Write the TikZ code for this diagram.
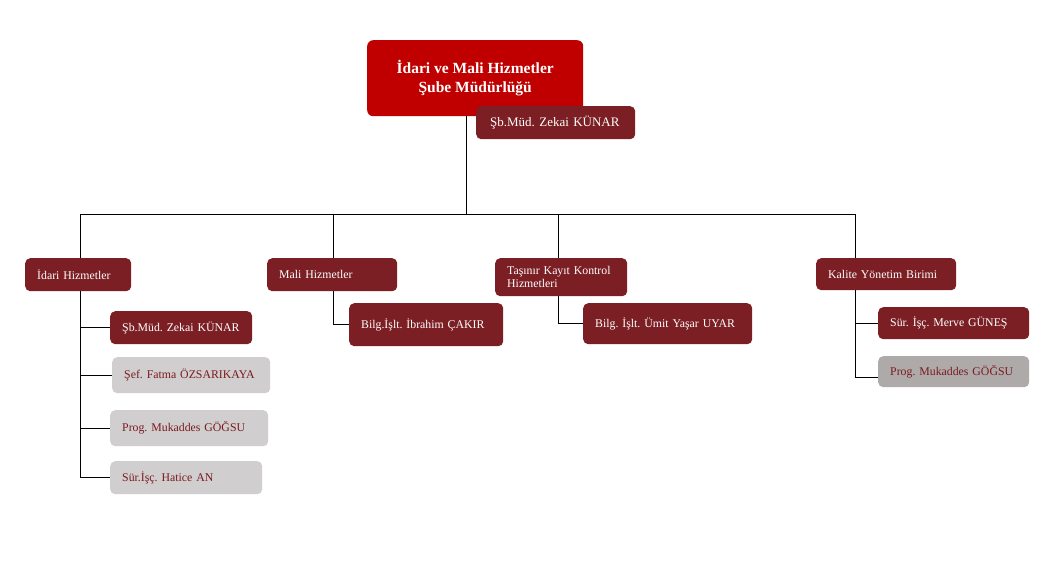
\documentclass[tikz,border=0pt]{standalone}
\usepackage{fontspec}
\setmainfont{Liberation Serif}
\definecolor{topred}{HTML}{C00000}
\definecolor{darkred}{HTML}{7B1F24}
\definecolor{lightgrey}{HTML}{D0CECE}
\definecolor{midgrey}{HTML}{AEAAAA}
\definecolor{greytext}{HTML}{7B1A1F}
\begin{document}
\begin{tikzpicture}[x=1pt,y=1pt,
  base/.style={anchor=north west, rounded corners=5pt, inner xsep=12pt, inner ysep=2pt, align=left, font=\fontsize{11.8}{13}\selectfont\frenchspacing},
  redbox/.style={base, fill=darkred, text=white},
  greybox/.style={base, fill=lightgrey, text=greytext},
  darkgreybox/.style={base, fill=midgrey, text=greytext},
  conn/.style={draw=black, line width=0.8pt}]
\useasboundingbox[fill=white] (0,0) rectangle (1057,-572);
% top
\node[anchor=north west, rounded corners=6pt, fill=topred, text=white, minimum width=216pt, minimum height=76pt, align=center, font=\bfseries\fontsize{15.5}{19}\selectfont] (top) at (367,-40) {İdari ve Mali Hizmetler\\Şube Müdürlüğü};
\coordinate (j) at (466,-214);
\coordinate (hl) at (80,-214);
\coordinate (hr) at (855,-214);
\coordinate (xm) at (333,-214);
\coordinate (xt) at (558,-214);
\draw[conn] (top.south -| j) -- (j);
\node[redbox, minimum width=159pt, minimum height=33pt, text width=131pt, inner xsep=14pt, font=\fontsize{13}{14}\selectfont\frenchspacing] (sb) at (476,-106) {Şb.Müd. Zekai KÜNAR};
\draw[conn] (hl) -- (hr);
% level 2
\node[redbox, minimum width=106pt, minimum height=33pt, text width=82pt] (idari) at (25,-258) {İdari Hizmetler};
\node[redbox, minimum width=130pt, minimum height=33pt, text width=106pt] (mali) at (267,-258) {Mali Hizmetler};
\node[redbox, minimum width=132pt, minimum height=38pt, text width=108pt, font=\fontsize{11.8}{12.5}\selectfont] (tasinir) at (495,-258) {Taşınır Kayıt Kontrol\\Hizmetleri};
\node[redbox, minimum width=140pt, minimum height=32pt, text width=116pt] (kalite) at (816,-258) {Kalite Yönetim Birimi};
\draw[conn] (hl) -- (idari.north -| hl);
\draw[conn] (xm) -- (mali.north -| xm);
\draw[conn] (xt) -- (tasinir.north -| xt);
\draw[conn] (hr) -- (kalite.north -| hr);
% idari children
\node[redbox, minimum width=142pt, minimum height=33pt, text width=118pt] (i1) at (110,-311) {Şb.Müd. Zekai KÜNAR};
\node[greybox, minimum width=158pt, minimum height=36pt, text width=134pt] (i2) at (112,-357) {Şef. Fatma ÖZSARIKAYA};
\node[greybox, minimum width=158pt, minimum height=36pt, text width=134pt] (i3) at (110,-410) {Prog. Mukaddes GÖĞSU};
\node[greybox, minimum width=152pt, minimum height=33pt, text width=128pt] (i4) at (110,-461) {Sür.İşç. Hatice AN};
\draw[conn] (idari.south -| hl) |- (i4.west);
\draw[conn] (i1.west -| hl) -- (i1.west);
\draw[conn] (i2.west -| hl) -- (i2.west);
\draw[conn] (i3.west -| hl) -- (i3.west);
% mali child
\node[redbox, minimum width=154pt, minimum height=43pt, text width=130pt] (m1) at (349,-303) {Bilg.İşlt. İbrahim ÇAKIR};
\draw[conn] (mali.south -| xm) |- (m1.west);
% tasinir child
\node[redbox, minimum width=169pt, minimum height=41pt, text width=145pt] (t1) at (583,-303) {Bilg. İşlt. Ümit Yaşar UYAR};
\draw[conn] (tasinir.south -| xt) |- (t1.west);
% kalite children
\node[redbox, minimum width=151pt, minimum height=32pt, text width=127pt] (k1) at (878,-307) {Sür. İşç. Merve GÜNEŞ};
\node[darkgreybox, minimum width=151pt, minimum height=31pt, text width=127pt] (k2) at (878,-356) {Prog. Mukaddes GÖĞSU};
\draw[conn] (kalite.south -| hr) |- ([yshift=-6pt]k2.west);
\draw[conn] (k1.west -| hr) -- (k1.west);
\end{tikzpicture}
\end{document}
